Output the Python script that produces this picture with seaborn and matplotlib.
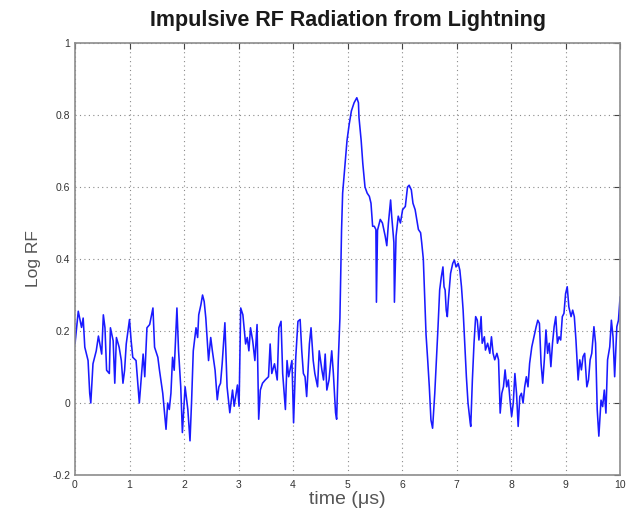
import matplotlib
matplotlib.use("Agg")
import matplotlib.pyplot as plt
import seaborn as sns
import pandas as pd

# Sampled radiation trace: time in microseconds, log RF amplitude
time_us = [
    0.00, 0.06, 0.12, 0.15, 0.18, 0.24, 0.27, 0.29, 0.33, 0.39, 0.43, 0.49, 0.52, 0.55, 0.58, 0.63,
    0.65, 0.70, 0.73, 0.76, 0.81, 0.85, 0.88, 0.91, 0.94, 1.00, 1.03, 1.06, 1.12, 1.18, 1.25, 1.28,
    1.32, 1.37, 1.43, 1.46, 1.52, 1.55, 1.61, 1.67, 1.70, 1.73, 1.76, 1.79, 1.82, 1.87, 1.90, 1.94,
    1.97, 2.02, 2.07, 2.11, 2.14, 2.17, 2.22, 2.25, 2.27, 2.31, 2.34, 2.37, 2.40, 2.45, 2.49, 2.52,
    2.57, 2.61, 2.64, 2.67, 2.70, 2.75, 2.79, 2.84, 2.89, 2.92, 2.98, 3.01, 3.04, 3.08, 3.13, 3.16,
    3.19, 3.22, 3.26, 3.30, 3.34, 3.37, 3.40, 3.44, 3.49, 3.55, 3.58, 3.61, 3.66, 3.71, 3.74, 3.78,
    3.81, 3.86, 3.89, 3.92, 3.98, 4.01, 4.05, 4.09, 4.13, 4.16, 4.19, 4.22, 4.25, 4.30, 4.33, 4.37,
    4.40, 4.45, 4.48, 4.53, 4.56, 4.59, 4.62, 4.66, 4.71, 4.74, 4.78, 4.80, 4.83, 4.86, 4.88, 4.89,
    4.91, 4.95, 4.99, 5.03, 5.07, 5.12, 5.17, 5.20, 5.21, 5.25, 5.28, 5.32, 5.36, 5.40, 5.43, 5.46,
    5.49, 5.52, 5.53, 5.55, 5.60, 5.64, 5.69, 5.72, 5.75, 5.79, 5.81, 5.85, 5.86, 5.89, 5.93, 5.97,
    6.01, 6.06, 6.10, 6.13, 6.17, 6.20, 6.24, 6.28, 6.30, 6.34, 6.36, 6.39, 6.44, 6.47, 6.50, 6.53,
    6.56, 6.60, 6.63, 6.66, 6.69, 6.72, 6.75, 6.77, 6.79, 6.81, 6.83, 6.85, 6.89, 6.93, 6.96, 6.99,
    7.03, 7.06, 7.09, 7.12, 7.15, 7.18, 7.21, 7.25, 7.26, 7.29, 7.32, 7.35, 7.38, 7.41, 7.45, 7.47,
    7.51, 7.53, 7.57, 7.61, 7.64, 7.67, 7.70, 7.74, 7.77, 7.80, 7.83, 7.86, 7.89, 7.92, 7.95, 7.98,
    8.01, 8.04, 8.07, 8.10, 8.13, 8.16, 8.19, 8.22, 8.25, 8.28, 8.31, 8.34, 8.38, 8.42, 8.46, 8.49,
    8.52, 8.55, 8.58, 8.61, 8.64, 8.67, 8.70, 8.73, 8.76, 8.79, 8.82, 8.85, 8.88, 8.91, 8.94, 8.97,
    9.00, 9.03, 9.06, 9.10, 9.13, 9.16, 9.19, 9.23, 9.26, 9.29, 9.32, 9.35, 9.39, 9.42, 9.45, 9.48,
    9.52, 9.55, 9.58, 9.61, 9.65, 9.68, 9.71, 9.74, 9.77, 9.81, 9.84, 9.87, 9.90, 9.94, 9.97, 10.00,
]
log_rf = [
    0.164, 0.255, 0.210, 0.236, 0.155, 0.118, 0.027, 0.000, 0.109, 0.145, 0.186, 0.136, 0.245, 0.209, 0.091, 0.082,
    0.209, 0.173, 0.055, 0.182, 0.155, 0.118, 0.055, 0.091, 0.164, 0.232, 0.173, 0.127, 0.118, 0.000, 0.136, 0.073,
    0.209, 0.218, 0.264, 0.155, 0.127, 0.091, 0.027, -0.073, 0.000, -0.018, 0.027, 0.127, 0.091, 0.264, 0.145, 0.045,
    -0.082, 0.045, -0.018, -0.105, 0.009, 0.145, 0.209, 0.182, 0.245, 0.273, 0.300, 0.282, 0.236, 0.118, 0.182, 0.145,
    0.091, 0.009, 0.045, 0.055, 0.109, 0.223, 0.045, -0.027, 0.036, -0.009, 0.050, -0.009, 0.264, 0.245, 0.164, 0.182,
    0.145, 0.209, 0.173, 0.118, 0.218, -0.045, 0.036, 0.055, 0.064, 0.073, 0.164, 0.082, 0.109, 0.064, 0.209, 0.227,
    0.082, -0.018, 0.118, 0.073, 0.118, -0.055, 0.127, 0.227, 0.232, 0.145, 0.082, 0.073, 0.018, 0.164, 0.209, 0.118,
    0.082, 0.045, 0.145, 0.091, 0.064, 0.136, 0.036, 0.064, 0.145, 0.082, -0.027, -0.045, 0.118, 0.236, 0.390, 0.480,
    0.583, 0.656, 0.729, 0.774, 0.811, 0.834, 0.848, 0.834, 0.793, 0.729, 0.665, 0.600, 0.583, 0.574, 0.555, 0.491,
    0.491, 0.482, 0.280, 0.480, 0.510, 0.500, 0.464, 0.437, 0.500, 0.564, 0.519, 0.446, 0.280, 0.464, 0.519, 0.500,
    0.537, 0.546, 0.600, 0.605, 0.592, 0.555, 0.537, 0.500, 0.482, 0.473, 0.446, 0.400, 0.190, 0.120, 0.045, -0.047,
    -0.070, 0.027, 0.120, 0.212, 0.314, 0.350, 0.378, 0.323, 0.314, 0.258, 0.240, 0.286, 0.360, 0.388, 0.397, 0.378,
    0.388, 0.369, 0.323, 0.258, 0.166, 0.073, 0.000, -0.055, -0.065, 0.064, 0.166, 0.240, 0.230, 0.175, 0.240, 0.166,
    0.184, 0.147, 0.166, 0.138, 0.184, 0.138, 0.120, 0.138, 0.120, -0.028, 0.027, 0.045, 0.092, 0.045, 0.064, 0.008,
    -0.037, 0.000, 0.082, 0.027, -0.065, 0.018, 0.027, 0.000, 0.045, 0.073, 0.045, 0.110, 0.156, 0.184, 0.212, 0.230,
    0.221, 0.110, 0.055, 0.120, 0.203, 0.138, 0.166, 0.101, 0.166, 0.212, 0.240, 0.166, 0.184, 0.175, 0.240, 0.249,
    0.304, 0.323, 0.267, 0.240, 0.258, 0.240, 0.175, 0.064, 0.120, 0.092, 0.129, 0.138, 0.045, 0.064, 0.120, 0.138,
    0.212, 0.166, -0.018, -0.092, 0.008, -0.010, 0.036, -0.028, 0.120, 0.156, 0.230, 0.184, 0.073, 0.212, 0.230, 0.295,
]

x_ticks = [0, 1, 2, 3, 4, 5, 6, 7, 8, 9, 10]
y_ticks = [-0.2, 0, 0.2, 0.4, 0.6, 0.8, 1]
y_tick_labels = ["-0.2", "0", "0.2", "0.4", "0.6", "0.8", "1"]

df = pd.DataFrame({"time": time_us, "logrf": log_rf})

sns.set_theme(style="white")
plt.rcParams["font.family"] = ["Liberation Sans", "DejaVu Sans"]

fig = plt.figure(figsize=(6.27, 5.17), dpi=100)
ax = fig.add_axes([0.1196, 0.0812, 0.8694, 0.8356])

sns.lineplot(data=df, x="time", y="logrf", estimator=None, sort=False,
             color="#1a1aff", linewidth=1.15, ax=ax)

ax.set_xlim(0, 10)
ax.set_ylim(-0.2, 1)
ax.set_xticks(x_ticks)
ax.set_xticklabels([str(v) for v in x_ticks])
ax.set_yticks(y_ticks)
ax.set_yticklabels(y_tick_labels)

ax.grid(True, linestyle=(0, (1, 3)), color="#8a8a8a", linewidth=0.8)
ax.tick_params(axis="both", direction="in", length=4, width=0.8, colors="#444444",
               labelsize=7.5, top=True, right=True, labelcolor="#333333")
for side, spine in ax.spines.items():
    spine.set_visible(True)
    spine.set_color("#8c8c8c")
    spine.set_linewidth(1.2)

ax.set_title("Impulsive RF Radiation from Lightning", fontsize=15.5,
             fontweight="bold", color="#1a1a1a", pad=12)
ax.set_xlabel("time (μs)", fontsize=14, color="#555555", labelpad=1)
ax.set_ylabel("Log RF", fontsize=12.5, color="#555555", labelpad=8)

fig.savefig("out.png", dpi=100)
